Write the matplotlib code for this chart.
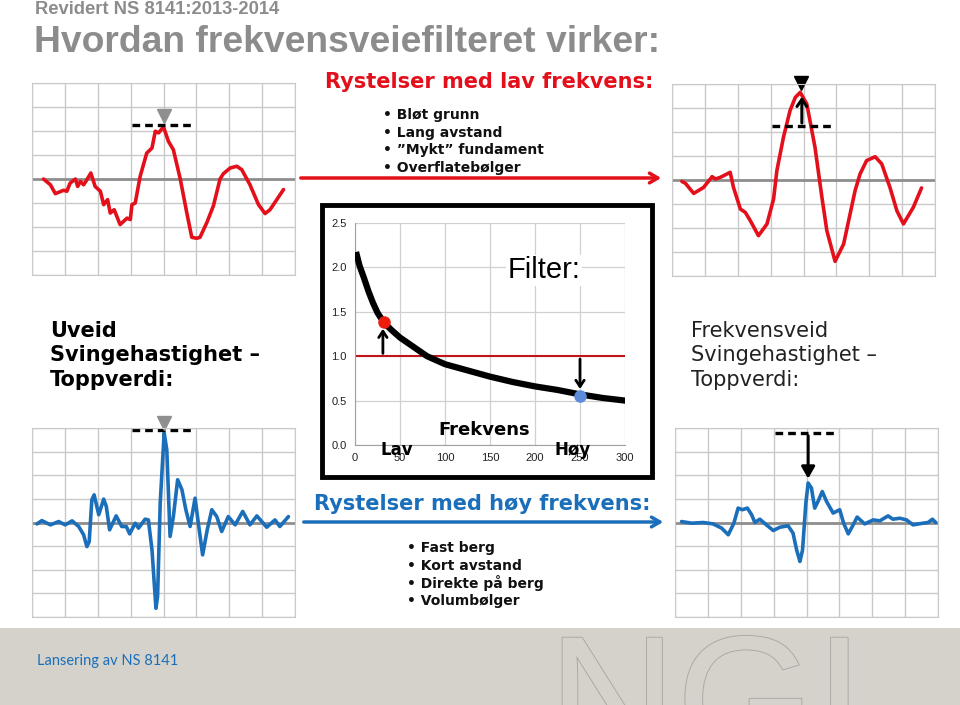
import matplotlib
matplotlib.use("Agg")
import matplotlib.pyplot as plt
import matplotlib.patheffects as pe
from matplotlib.patches import Rectangle

W, H = 960, 705

# --- data -----------------------------------------------------------------
# waveform panels: x in grid columns (0-8), y in grid rows (-4..4, zero in middle)
tl_x = [0.35, 0.56, 0.71, 0.96, 1.06, 1.16, 1.32, 1.39, 1.47, 1.57, 1.67, 1.79, 1.92,
        2.08, 2.18, 2.30, 2.38, 2.50, 2.68, 2.89, 2.99, 3.04, 3.14, 3.29, 3.49, 3.65,
        3.75, 3.85, 4.00, 4.15, 4.30, 4.51, 4.71, 4.86, 5.01, 5.11, 5.32, 5.52, 5.72,
        5.82, 6.03, 6.23, 6.38, 6.63, 6.89, 7.09, 7.24, 7.65]
tl_y = [0.00, -0.24, -0.61, -0.47, -0.51, -0.17, 0.00, -0.31, -0.10, -0.24, -0.03, 0.25,
        -0.31, -0.51, -1.07, -0.86, -1.42, -1.28, -1.90, -1.63, -1.69, -1.07, -1.00, 0.11,
        1.08, 1.29, 1.99, 1.92, 2.17, 1.57, 1.22, 0.00, -1.42, -2.43, -2.47, -2.43, -1.81,
        -1.11, 0.00, 0.22, 0.46, 0.53, 0.39, -0.24, -1.07, -1.44, -1.28, -0.44]

tr_x = [0.30, 0.41, 0.66, 0.96, 1.22, 1.32, 1.47, 1.67, 1.77, 1.87, 2.08, 2.23, 2.38,
        2.63, 2.89, 3.09, 3.19, 3.39, 3.59, 3.75, 3.90, 4.10, 4.35, 4.56, 4.71, 4.96,
        5.22, 5.57, 5.72, 5.92, 6.18, 6.38, 6.63, 6.84, 7.04, 7.34, 7.59]
tr_y = [-0.06, -0.14, -0.56, -0.31, 0.14, 0.04, 0.11, 0.25, 0.32, -0.31, -1.21, -1.35,
        -1.69, -2.32, -1.83, -0.79, 0.39, 1.78, 2.89, 3.44, 3.65, 3.17, 1.36, -0.72,
        -2.11, -3.39, -2.67, -0.44, 0.25, 0.81, 0.97, 0.67, -0.31, -1.28, -1.83, -1.14,
        -0.33]

bl_x = [0.15, 0.30, 0.56, 0.81, 1.01, 1.22, 1.42, 1.57, 1.67, 1.74, 1.82, 1.89, 2.03,
        2.18, 2.26, 2.36, 2.56, 2.73, 2.87, 2.97, 3.14, 3.24, 3.44, 3.54, 3.65, 3.77,
        3.82, 3.90, 4.02, 4.10, 4.20, 4.30, 4.43, 4.56, 4.68, 4.81, 4.96, 5.06, 5.19,
        5.33, 5.47, 5.62, 5.77, 5.97, 6.18, 6.41, 6.63, 6.84, 7.14, 7.39, 7.54, 7.80]
bl_y = [-0.06, 0.08, -0.10, 0.04, -0.10, 0.07, -0.17, -0.52, -1.02, -0.81, 0.96, 1.17,
        0.33, 0.99, 0.68, -0.31, 0.28, -0.17, -0.17, -0.48, -0.03, -0.24, 0.14, 0.11,
        -1.16, -3.63, -3.13, 0.82, 3.79, 3.08, -0.59, 0.25, 1.81, 1.39, 0.54, -0.17, 1.03,
        -0.03, -1.37, -0.31, 0.54, 0.25, -0.38, 0.25, -0.10, 0.47, -0.10, 0.28, -0.20,
        0.11, -0.17, 0.25]

br_x = [0.20, 0.51, 0.86, 1.16, 1.42, 1.62, 1.79, 1.92, 2.05, 2.20, 2.33, 2.43, 2.58,
        2.78, 2.99, 3.19, 3.44, 3.59, 3.70, 3.80, 3.88, 3.98, 4.05, 4.15, 4.25, 4.35,
        4.48, 4.61, 4.81, 5.01, 5.13, 5.27, 5.42, 5.54, 5.77, 6.03, 6.23, 6.48, 6.63,
        6.84, 7.04, 7.24, 7.54, 7.70, 7.83, 7.93]
br_y = [0.04, -0.03, 0.00, -0.06, -0.24, -0.52, -0.03, 0.61, 0.54, 0.61, 0.33, 0.00,
        0.14, -0.10, -0.34, -0.20, -0.14, -0.45, -1.16, -1.65, -1.16, 0.82, 1.67, 1.46,
        0.61, 0.89, 1.31, 0.89, 0.40, 0.54, -0.03, -0.48, -0.10, 0.23, -0.06, 0.11, 0.07,
        0.28, 0.14, 0.18, 0.11, -0.10, -0.03, 0.00, 0.14, 0.00]

# peak reference levels (dashed lines) and peak markers
tl_level, tl_marker = 2.26, 2.64
tr_level, tr_peak = 2.26, 3.58
bl_level, bl_marker = 3.90, 4.21
br_level, br_peak = 3.79, 1.74

# filter curve
filter_freq = [2, 5, 10, 15, 20, 25, 32, 40, 50, 60, 80, 100, 125, 150, 175, 200, 225,
               250, 275, 300]
filter_gain = [2.14, 2.02, 1.88, 1.73, 1.60, 1.49, 1.38, 1.30, 1.21, 1.14, 1.00, 0.91,
               0.84, 0.77, 0.71, 0.66, 0.62, 0.57, 0.53, 0.50]
low_point = (32, 1.38)
high_point = (250, 0.55)
freq_ticks = [0, 50, 100, 150, 200, 250, 300]
gain_ticks = [0.0, 0.5, 1.0, 1.5, 2.0, 2.5]

low_items = ["Bløt grunn", "Lang avstand", "\u201dMykt\u201d fundament", "Overflatebølger"]
high_items = ["Fast berg", "Kort avstand", "Direkte på berg", "Volumbølger"]

RED = "#e3101c"
BLUE = "#1b6fba"
GRAY_TXT = "#8c8c8c"
BAND = "#d5d2cb"
VERDANA = ["DejaVu Sans"]
ARIAL = ["Liberation Sans", "DejaVu Sans"]


def rect(x0, y0, x1, y1):
    return [x0 / W, 1 - y1 / H, (x1 - x0) / W, (y1 - y0) / H]


def wave_panel(box, xs, ys, color):
    ax = fig.add_axes(rect(*box))
    ax.set_xlim(0, 8)
    ax.set_ylim(-4, 4)
    ax.set_xticks(range(9))
    ax.set_yticks(range(-4, 5))
    ax.grid(True, color="#c9c9c9", lw=1.0)
    ax.tick_params(length=0, labelbottom=False, labelleft=False)
    for s in ax.spines.values():
        s.set_color("#c9c9c9")
    ax.axhline(0, color="#8e8e8e", lw=2.0)
    ax.plot(xs, ys, color=color, lw=2.6, solid_joinstyle="round", solid_capstyle="round")
    return ax


def dashed(ax, level):
    ax.plot([3.04, 4.91], [level, level], color="k", lw=2.4, dashes=(2.3, 1.5),
            clip_on=False)


fig = plt.figure(figsize=(W / 100, H / 100), dpi=100)
fig.patch.set_facecolor("white")

# --- waveform panels --------------------------------------------------------
ax_tl = wave_panel((32, 83, 295, 275), tl_x, tl_y, RED)
dashed(ax_tl, tl_level)
ax_tl.plot([4.0], [tl_marker], marker="v", ms=10, color="#8f8f8f", clip_on=False)

ax_tr = wave_panel((672, 84, 935, 276), tr_x, tr_y, RED)
dashed(ax_tr, tr_level)
ax_tr.plot([3.93], [4.03], marker="v", ms=10, color="k", clip_on=False)
ax_tr.annotate("", xy=(3.95, tr_peak), xytext=(3.95, tr_level),
               arrowprops=dict(arrowstyle="->,head_length=0.5,head_width=0.35",
                               color="k", lw=2.2))

ax_bl = wave_panel((32, 428, 295, 617), bl_x, bl_y, BLUE)
dashed(ax_bl, bl_level)
ax_bl.plot([4.0], [bl_marker], marker="v", ms=10, color="#8f8f8f", clip_on=False)

ax_br = wave_panel((675, 428, 938, 617), br_x, br_y, BLUE)
dashed(ax_br, br_level)
ax_br.annotate("", xy=(4.05, br_peak), xytext=(4.05, br_level),
               arrowprops=dict(arrowstyle="-|>,head_length=0.7,head_width=0.4",
                               color="k", lw=2.2))

# --- filter chart -------------------------------------------------------------
axf = fig.add_axes(rect(355, 223, 625, 445))
axf.set_xlim(0, 300)
axf.set_ylim(0, 2.5)
axf.set_xticks(freq_ticks)
axf.set_yticks(gain_ticks)
axf.set_xticklabels([str(t) for t in freq_ticks])
axf.set_yticklabels([f"{t:.1f}" for t in gain_ticks])
axf.grid(True, color="#d0d0d0", lw=0.9)
axf.tick_params(length=0, labelsize=8, colors="#222222", pad=6)
for lab in axf.get_xticklabels() + axf.get_yticklabels():
    lab.set_family(ARIAL)
for side in ("top", "right"):
    axf.spines[side].set_visible(False)
for side in ("left", "bottom"):
    axf.spines[side].set_color("#a0a0a0")
axf.axhline(1.0, color="#c0141c", lw=1.5, zorder=2)
axf.plot(filter_freq, filter_gain, color="k", lw=4.5, zorder=3)
axf.plot(*low_point, marker="o", ms=8, color="#ee1c0c", zorder=4)
axf.plot(*high_point, marker="o", ms=8, color="#5b8bd9", zorder=4)
axf.annotate("", xy=(low_point[0] - 1, low_point[1] - 0.04), xytext=(low_point[0] - 1, 1.0),
             arrowprops=dict(arrowstyle="->,head_length=0.45,head_width=0.3",
                             color="k", lw=2.0), zorder=5)
axf.annotate("", xy=(high_point[0], high_point[1] + 0.05), xytext=(high_point[0], 1.0),
             arrowprops=dict(arrowstyle="->,head_length=0.45,head_width=0.3",
                             color="k", lw=2.0), zorder=5)
axf.text(210, 1.97, "Filter:", fontsize=21, family=ARIAL, ha="center", va="center",
         color="k", bbox=dict(fc="white", ec="none", pad=1))
axf.text(144, 0.17, "Frekvens", fontsize=13, family=VERDANA, weight="bold",
         ha="center", va="center")
axf.text(46, -0.06, "Lav", fontsize=12, family=VERDANA, weight="bold",
         ha="center", va="center", clip_on=False)
axf.text(242, -0.06, "Høy", fontsize=12, family=VERDANA, weight="bold",
         ha="center", va="center", clip_on=False)

# --- overlay in pixel coordinates -------------------------------------------
ov = fig.add_axes([0, 0, 1, 1], facecolor="none")
ov.set_xlim(0, W)
ov.set_ylim(H, 0)
ov.axis("off")

ov.add_patch(Rectangle((322, 205), 330, 272, fill=False, ec="k", lw=3.5))

band = Rectangle((0, 628), W, H - 628, fc=BAND, ec="none", zorder=0)
ov.add_patch(band)
ngi = ov.text(548, 760, "NGI", fontsize=128, family=ARIAL, color=BAND,
              path_effects=[pe.withStroke(linewidth=1.3, foreground="#a9a7a1")])
ngi.set_clip_path(band)
ov.text(37, 661, "Lansering av NS 8141", fontsize=10.5, family=["Lato"], color=BLUE,
        va="center")

ov.text(35, 10, "Revidert NS 8141:2013-2014", fontsize=13.2, family=ARIAL,
        weight="bold", color=GRAY_TXT, va="center")
ov.text(34, 42, "Hvordan frekvensveiefilteret virker:", fontsize=26.8, family=ARIAL,
        weight="bold", color=GRAY_TXT, va="center")

ov.text(489, 82, "Rystelser med lav frekvens:", fontsize=15, family=VERDANA,
        weight="bold", color=RED, ha="center", va="center")
for i, item in enumerate(low_items):
    ov.text(383, 115 + i * 17.7, "\u2022 " + item, fontsize=10, family=VERDANA,
            weight="bold", color="#111111", va="center")
ov.annotate("", xy=(664, 178), xytext=(298, 178),
            arrowprops=dict(arrowstyle="->,head_length=0.6,head_width=0.35",
                            color=RED, lw=2.5))

ov.text(482, 504, "Rystelser med høy frekvens:", fontsize=15, family=VERDANA,
        weight="bold", color=BLUE, ha="center", va="center")
ov.annotate("", xy=(666, 522), xytext=(301, 522),
            arrowprops=dict(arrowstyle="->,head_length=0.6,head_width=0.35",
                            color=BLUE, lw=2.5))
for i, item in enumerate(high_items):
    ov.text(407, 548 + i * 17.7, "\u2022 " + item, fontsize=10, family=VERDANA,
            weight="bold", color="#111111", va="center")

ov.text(50, 321, "Uveid\nSvingehastighet \u2013\nToppverdi:", fontsize=15,
        family=VERDANA, weight="bold", color="k", va="top", linespacing=1.27)
ov.text(691, 321, "Frekvensveid\nSvingehastighet \u2013\nToppverdi:", fontsize=15,
        family=VERDANA, color="#222222", va="top", linespacing=1.27)

fig.savefig("out.png", dpi=100)
